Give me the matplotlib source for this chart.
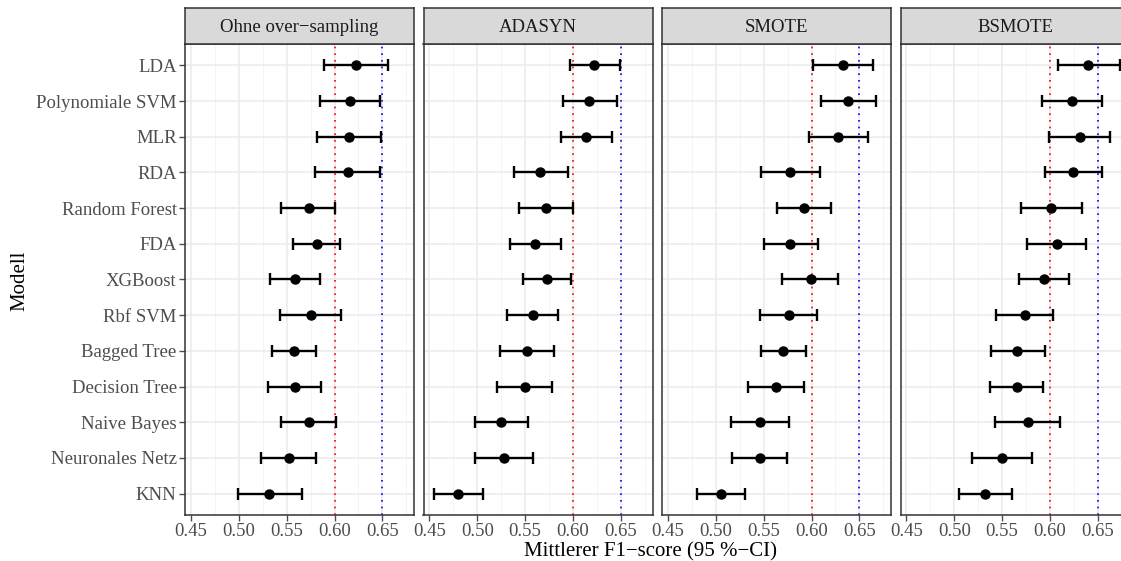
import matplotlib
matplotlib.use("Agg")
import matplotlib.pyplot as plt
from matplotlib.ticker import MultipleLocator

plt.rcParams["font.family"] = ["Liberation Serif", "DejaVu Serif"]

models = ["LDA", "Polynomiale SVM", "MLR", "RDA", "Random Forest", "FDA", "XGBoost",
          "Rbf SVM", "Bagged Tree", "Decision Tree", "Naive Bayes", "Neuronales Netz", "KNN"]
panels = ["Ohne over\u2212sampling", "ADASYN", "SMOTE", "BSMOTE"]

# mean F1 and 95% CI per panel, same order as models
ohne_mean = [0.622, 0.616, 0.615, 0.614, 0.573, 0.582, 0.559, 0.575, 0.558, 0.559, 0.573, 0.552, 0.532]
ohne_lo = [0.589, 0.585, 0.582, 0.580, 0.544, 0.557, 0.533, 0.543, 0.535, 0.531, 0.544, 0.523, 0.499]
ohne_hi = [0.656, 0.648, 0.649, 0.648, 0.601, 0.606, 0.585, 0.607, 0.581, 0.586, 0.602, 0.581, 0.566]

adasyn_mean = [0.622, 0.617, 0.614, 0.566, 0.572, 0.560, 0.573, 0.558, 0.552, 0.550, 0.525, 0.528, 0.480]
adasyn_lo = [0.597, 0.590, 0.587, 0.538, 0.544, 0.534, 0.548, 0.531, 0.524, 0.521, 0.498, 0.498, 0.455]
adasyn_hi = [0.649, 0.646, 0.641, 0.595, 0.600, 0.587, 0.598, 0.584, 0.580, 0.578, 0.553, 0.558, 0.506]

smote_mean = [0.633, 0.638, 0.628, 0.577, 0.592, 0.578, 0.599, 0.576, 0.570, 0.563, 0.546, 0.546, 0.505]
smote_lo = [0.602, 0.610, 0.597, 0.547, 0.564, 0.550, 0.569, 0.546, 0.547, 0.534, 0.516, 0.517, 0.480]
smote_hi = [0.664, 0.667, 0.659, 0.609, 0.620, 0.607, 0.628, 0.606, 0.594, 0.592, 0.576, 0.574, 0.531]

bsmote_mean = [0.640, 0.623, 0.631, 0.624, 0.601, 0.607, 0.594, 0.574, 0.566, 0.565, 0.577, 0.550, 0.532]
bsmote_lo = [0.608, 0.592, 0.599, 0.595, 0.570, 0.576, 0.568, 0.544, 0.538, 0.537, 0.543, 0.519, 0.505]
bsmote_hi = [0.673, 0.654, 0.663, 0.654, 0.633, 0.638, 0.620, 0.603, 0.595, 0.593, 0.610, 0.581, 0.560]

data = [(ohne_mean, ohne_lo, ohne_hi), (adasyn_mean, adasyn_lo, adasyn_hi),
        (smote_mean, smote_lo, smote_hi), (bsmote_mean, bsmote_lo, bsmote_hi)]

W, H = 1121, 561
fig = plt.figure(figsize=(W / 100, H / 100), dpi=100)

left0, pw, gap = 185, 229, 9.5
top, bottom, strip_h = 44, 515, 36
ypos = list(range(len(models)))

for k, (name, (m, lo, hi)) in enumerate(zip(panels, data)):
    x0 = left0 + k * (pw + gap)
    ax = fig.add_axes([x0 / W, 1 - bottom / H, pw / W, (bottom - top) / H])
    ax.set_xlim(0.4438, 0.683)
    ax.set_ylim(len(models) - 0.4, -0.6)
    ax.xaxis.set_major_locator(MultipleLocator(0.05))
    ax.xaxis.set_minor_locator(MultipleLocator(0.025))
    ax.grid(True, which="major", color="#ebebeb", lw=1.1, zorder=0)
    ax.grid(True, which="minor", axis="x", color="#f2f2f2", lw=0.6, zorder=0)
    ax.set_axisbelow(True)
    ax.axvline(0.60, color="red", ls=(0, (1, 3)), lw=1.2, zorder=1)
    ax.axvline(0.65, color="blue", ls=(0, (1, 3)), lw=1.2, zorder=1)
    err = [[a - b for a, b in zip(m, lo)], [c - a for a, c in zip(m, hi)]]
    ax.errorbar(m, ypos, xerr=err, fmt="o", color="black", ms=6.5, elinewidth=1.7,
                capsize=4, capthick=1.7, zorder=3)
    ax.set_yticks(ypos)
    ax.set_xticks([0.45, 0.50, 0.55, 0.60, 0.65])
    ax.set_xticklabels(["0.45", "0.50", "0.55", "0.60", "0.65"])
    if k == 0:
        ax.set_yticklabels(models)
    else:
        ax.set_yticklabels([])
    ax.tick_params(axis="both", which="major", labelsize=13.5, colors="#4d4d4d",
                   length=4, width=1, pad=2)
    ax.tick_params(axis="y", length=4 if k == 0 else 0)
    ax.tick_params(which="minor", length=0)
    for s in ax.spines.values():
        s.set_color("#333333")
        s.set_linewidth(1.1)
    # strip header
    sa = fig.add_axes([x0 / W, 1 - top / H, pw / W, strip_h / H])
    sa.set_xticks([]); sa.set_yticks([])
    sa.set_facecolor("#d9d9d9")
    for s in sa.spines.values():
        s.set_color("#333333")
        s.set_linewidth(1.1)
    sa.text(0.5, 0.45, name, ha="center", va="center", fontsize=13.5,
            color="#1a1a1a", transform=sa.transAxes)

fig.text(651 / W, 1 - 552 / H, "Mittlerer F1\u2212score (95 %\u2212CI)", ha="center",
         va="center", fontsize=15)
fig.text(20 / W, 1 - 281 / H, "Modell", ha="center", va="center", rotation=90,
         fontsize=15)

fig.savefig("out.png", dpi=100)
